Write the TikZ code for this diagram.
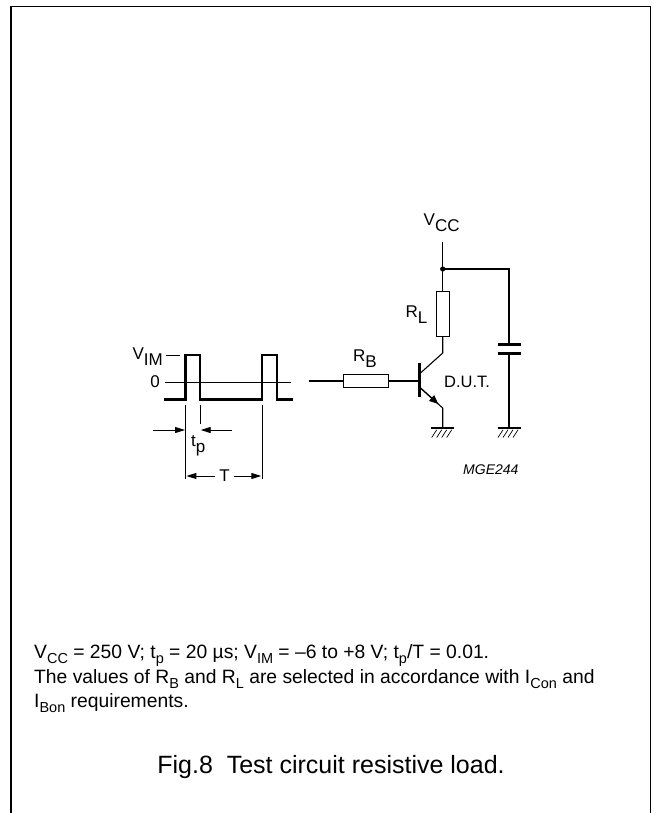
\documentclass[tikz,border=0pt]{standalone}
\usepackage{fontspec}
\setmainfont{Liberation Sans}
\usepackage{graphicx}
\usetikzlibrary{arrows.meta,calc}
\newcommand\lsub[1]{\raisebox{-0.36em}{#1}}
\newcommand\tsub[1]{\raisebox{-0.28em}{\scalebox{0.75}{#1}}}
\tikzset{
  wire/.style={line width=1.1pt},
  wave/.style={line width=2.6pt},
  thinl/.style={line width=0.9pt},
  resbox/.style={draw,line width=1pt,inner sep=0pt,fill=white},
  lbl/.style={inner sep=0pt,font=\fontsize{17}{19}\selectfont},
  bodytxt/.style={inner sep=0pt,anchor=base west,font=\fontsize{19.3}{23}\selectfont},
  dimarrow/.style={line width=0.9pt,-{Triangle[length=10pt,width=6pt]}},
  gnd/.pic={
    \draw[line width=2.6pt] (-11.5,0)--(11.5,0);
    \foreach \i in {-6,-1,4,9} \draw[line width=0.7pt] (\i,1.8)--(\i-5,9.5);
  }
}
\begin{document}
\begin{tikzpicture}[x=1pt,y=-1pt]
\useasboundingbox (0,0) rectangle (653,813);
% frame
\draw[line width=1.6pt] (11,813) -- (11,6.5) -- (650.5,6.5) -- (650.5,813);

% ---------------- waveform ----------------
\draw[wave,line join=miter] (164,399.5) -- (185.7,399.5) -- (185.7,355) -- (200,355) -- (200,399.5)
  -- (262,399.5) -- (262,355) -- (277,355) -- (277,399.5) -- (293,399.5);
\draw[thinl] (165,382) -- (290.5,382);
\draw[thinl] (166,355) -- (180,355);
\node[lbl,anchor=base east] (vim) at (163,359) {V\lsub{IM}};
\node[lbl] (zero) at (155,382) {0};
% dimension lines
\draw[thinl] (185.7,405) -- (185.7,479);
\draw[thinl] (200,405) -- (200,424);
\draw[thinl] (262,405) -- (262,479);
\coordinate (tpl) at (153,430);
\coordinate (tpla) at (185,430);
\coordinate (tpr) at (232,430);
\coordinate (tpra) at (200.7,430);
\draw[dimarrow] (tpl) -- (tpla);
\draw[dimarrow] (tpr) -- (tpra);
\node[lbl,anchor=base west] (tp) at (191,446) {t\lsub{p}};
\node[lbl] (T) at (224.5,476) {T};
\coordinate (Tl) at (186.4,476);
\coordinate (Tr) at (261.3,476);
\draw[dimarrow] (T.west) ++(-4,0) -- (Tl);
\draw[dimarrow] (T.east) ++(4,0) -- (Tr);

% ---------------- circuit ----------------
\coordinate (in1) at (309,381);
\node[resbox,minimum width=45pt,minimum height=13pt] (rb) at (365.5,381) {};
\coordinate (bb) at (419,381);
\coordinate (bt) at (419,363);
\coordinate (bbot) at (419,397);
\draw[wire] (in1) -- (rb.west);
\draw[wire] (rb.east) -- (bb);
\draw[line width=3pt] (bt) -- (bbot);
% collector
\coordinate (c1) at (420.5,373);
\coordinate (c2) at (442.7,353);
\node[resbox,minimum width=13pt,minimum height=45pt] (rl) at (442.7,313.5) {};
\coordinate (vdot) at (442.7,269);
\coordinate (vtop) at (442.7,241.5);
\draw[wire] (c1) -- (c2) -- (rl.south);
\draw[wire] (rl.north) -- (vdot) -- (vtop);
\fill (vdot) circle (2.6pt);
% emitter
\coordinate (e1) at (420.5,388);
\coordinate (e2) at (442.7,408);
\coordinate (eg) at (442.7,428);
\draw[wire] (e1) -- (e2) -- (eg);
\draw[wire,-{Triangle[length=9pt,width=7.5pt]}] (e1) -- ($(e1)!0.8!(e2)$);
\pic at (eg) {gnd};
% capacitor
\coordinate (ct) at (509,269);
\coordinate (cp1) at (509,344);
\coordinate (cp2) at (509,353);
\coordinate (cg) at (509,428);
\draw[wire] (vdot) -- (ct) -- (cp1);
\draw[wire] (cp2) -- (cg);
\draw[line width=3pt] (497.5,344) -- (520.5,344);
\draw[line width=3pt] (497.5,353) -- (520.5,353);
\pic at (cg) {gnd};
% labels
\node[lbl,anchor=base west] (vcc) at (423.5,225) {V\lsub{CC}};
\node[lbl,anchor=base west] (rll) at (405.5,317) {R\lsub{L}};
\node[lbl,anchor=base west] (rbl) at (353,361) {R\lsub{B}};
\node[lbl,anchor=base west,font=\fontsize{16.5}{19}\selectfont] (dut) at (444,387.5) {D.U.T.};
\node[inner sep=0pt,anchor=base west,font=\fontsize{14}{16}\selectfont\itshape] (mge) at (463,474) {MGE244};

% ---------------- notes ----------------
\node[bodytxt] (note1) at (34,658)
 {V\tsub{CC} = 250 V; t\tsub{p} = 20 µs; V\tsub{IM} = –6 to +8 V; t\tsub{p}/T = 0.01.};
\node[bodytxt] (note2) at (34,683)
 {The values of R\tsub{B} and R\tsub{L} are selected in accordance with I\tsub{Con} and};
\node[bodytxt] (note3) at (34,707)
 {I\tsub{Bon} requirements.};
\node[inner sep=0pt,anchor=base,font=\fontsize{25}{28}\selectfont] (cap) at (331,773) {Fig.8\ \ Test circuit resistive load.};
\end{tikzpicture}
\end{document}
